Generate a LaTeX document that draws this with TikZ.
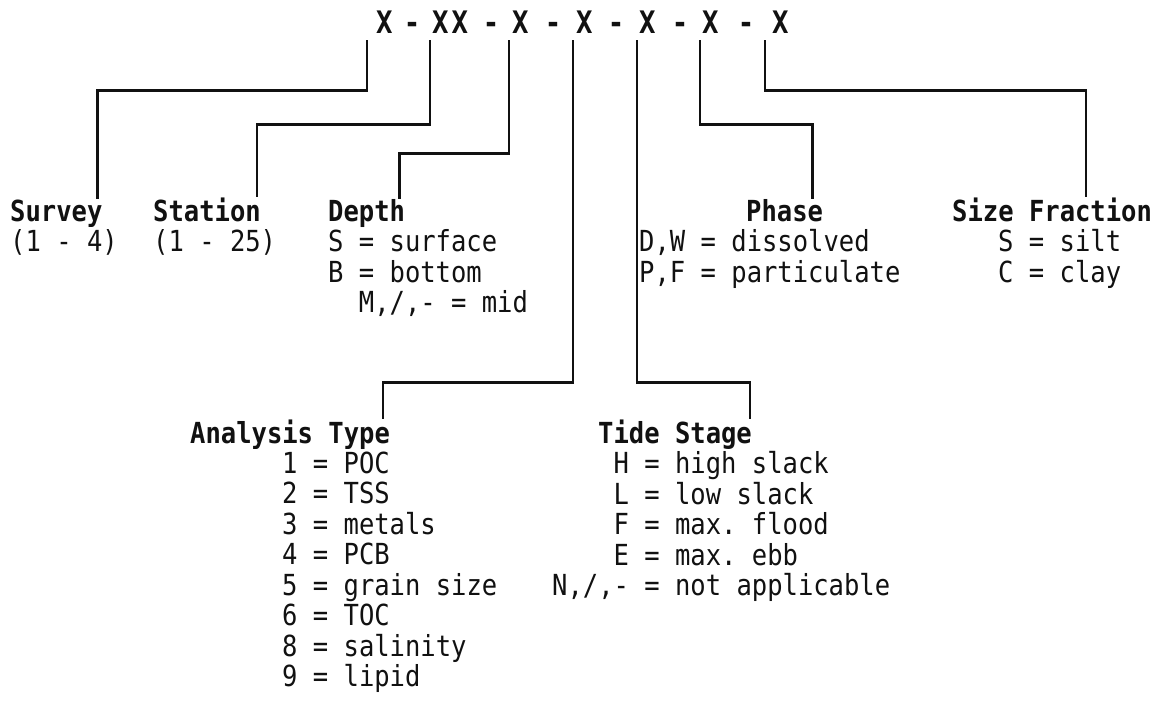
\documentclass[tikz,border=0pt]{standalone}
\usepackage{fontspec}
\setmonofont[FakeStretch=0.88]{DejaVu Sans Mono}
\usetikzlibrary{positioning}
\definecolor{ink}{HTML}{111111}
\frenchspacing
\tikzset{
  mono/.style={font=\ttfamily\fontsize{29}{30.5}\selectfont, text=ink, inner sep=0pt, anchor=base west},
  codefld/.style={mono, font=\ttfamily\bfseries\fontsize{31}{32}\selectfont, inner ysep=7pt},
  hdr/.style={mono, font=\ttfamily\bfseries\fontsize{29}{30.5}\selectfont},
  body/.style={mono, align=left, anchor=north west},
  lead/.style={draw=ink, line width=2.6pt},
}

\begin{document}
\begin{tikzpicture}[x=1pt, y=-1pt]
  \path[fill=white, use as bounding box] (0,0) rectangle (1169,715);
  % the sample code
  \node[codefld] (fSurvey) at (376,33) {X};
  \node[codefld] (fStation) at (432,33) {X\kern3pt X};
  \node[codefld] (fDepth) at (512,33) {X};
  \node[codefld] (fAnalysis) at (576,33) {X};
  \node[codefld] (fTide) at (639,33) {X};
  \node[codefld] (fPhase) at (702,33) {X};
  \node[codefld] (fSize) at (772,33) {X};
  \foreach \x [count=\i] in {412,491,553,616,680,746}
    \node[codefld, anchor=base] (dash\i) at (\x,33) {-};
  % upper labels
  \node[hdr] (hSurvey) at (10,221) {Survey};
  \node[body] (bSurvey) at (10,229.6) {(1 - 4)};
  \node[hdr] (hStation) at (153,221) {Station};
  \node[body] (bStation) at (153,229.6) {(1 - 25)};
  \node[hdr] (hDepth) at (328,221) {Depth};
  \node[body] (bDepth) at (328,229.6) {S = surface\\B = bottom\\~~M,/,- = mid};
  \node[hdr] (hPhase) at (746,221) {Phase};
  \node[body] (bPhase) at (639,229.6) {D,W = dissolved\\P,F = particulate};
  \node[hdr] (hSize) at (952,221) {Size Fraction};
  \node[body] (bSize) at (998,229.6) {S = silt\\C = clay};
  % lower labels
  \node[hdr] (hAnalysis) at (190,443) {Analysis Type};
  \node[body] (bAnalysis) at (282,451.6) {1 = POC\\2 = TSS\\3 = metals\\4 = PCB\\5 = grain size\\6 = TOC\\8 = salinity\\9 = lipid};
  \node[hdr] (hTide) at (598,443) {Tide Stage};
  \node[body] (bTide) at (552,451.6) {~~~~H = high slack\\~~~~L = low slack\\~~~~F = max. flood\\~~~~E = max. ebb\\N,/,- = not applicable};
  % leaders
  \draw[lead] ([xshift=-9pt]fSurvey.south west) -- ++(0,50) -| ([xshift=-5pt]hSurvey.north east);
  \draw[lead] ([xshift=-2pt]fStation.south west) -- ++(0,84) -| ([xshift=-4pt]hStation.north east);
  \draw[lead] ([xshift=-3pt]fDepth.south west) -- ++(0,113) -| ([xshift=-6pt]hDepth.north east);
  \draw[lead] ([xshift=-3pt]fAnalysis.south west) -- ++(0,342) -| ([xshift=-7pt]hAnalysis.north east);
  \draw[lead] ([xshift=-2pt]fTide.south west) -- ++(0,342) -| ([xshift=-2pt]hTide.north east);
  \draw[lead] ([xshift=-2pt]fPhase.south west) -- ++(0,84) -| ([xshift=-11pt]hPhase.north east);
  \draw[lead] ([xshift=-7pt]fSize.south west) -- ++(0,50) -| ([xshift=134pt]hSize.north west);
\end{tikzpicture}
\end{document}
